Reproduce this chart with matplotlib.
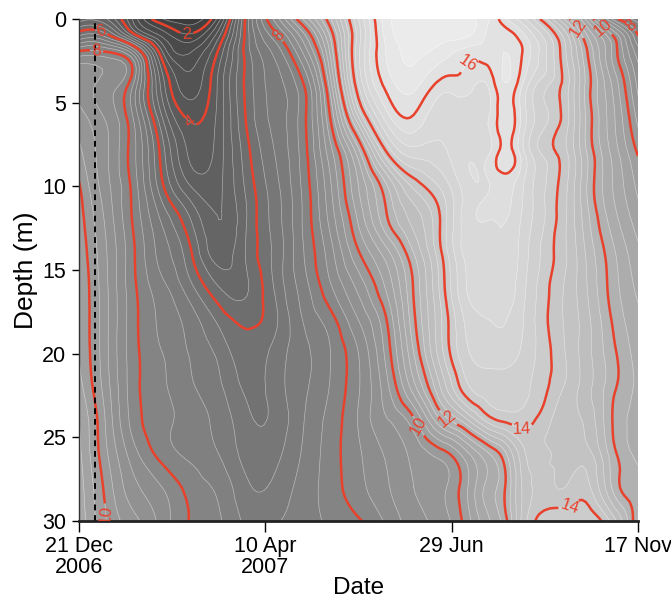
import numpy as np
import matplotlib
matplotlib.use("Agg")
import matplotlib.pyplot as plt
import matplotlib.tri as mtri
from matplotlib.colors import Normalize

plt.rcParams['font.family'] = ['Liberation Sans', 'DejaVu Sans']

# cast positions along the time axis (fraction of the axis) and sample depths (m)
cast_pos = [0.000, 0.050, 0.100, 0.150, 0.200, 0.250, 0.300, 0.350, 0.400, 0.450, 0.500,
            0.549, 0.599, 0.649, 0.699, 0.735, 0.765, 0.795, 0.870, 0.900, 0.950, 1.000]
depths = [0, 1, 2, 4, 6, 8, 10, 12, 14, 16, 18, 20, 22, 24, 26, 28, 30]

# temperature profiles (deg C), one list per cast, top to bottom
profiles = [
    [5.0, 6.4, 8.1, 9.1, 9.4, 9.7, 10.05, 10.2, 10.3, 10.37, 10.4, 10.4, 10.55, 10.8, 10.9, 11.0, 11.1],
    [4.8, 6.2, 8.05, 8.6, 8.75, 8.85, 8.92, 9.08, 9.2, 9.25, 9.27, 9.27, 9.35, 9.5, 9.64, 9.84, 9.98],
    [3.0, 4.2, 6.8, 7.4, 7.5, 7.65, 7.76, 7.87, 8.0, 8.05, 8.1, 8.12, 8.13, 8.19, 8.52, 8.9, 9.3],
    [1.6, 2.7, 3.6, 4.57, 5.2, 5.75, 6.05, 6.7, 7.0, 7.3, 7.5, 7.6, 7.66, 7.72, 7.83, 8.39, 8.61],
    [1.4, 2.1, 2.8, 3.4, 3.95, 4.3, 4.8, 5.6, 6.05, 6.5, 7.0, 7.16, 7.25, 7.39, 7.51, 7.84, 7.97],
    [2.6, 3.5, 4.1, 4.5, 4.55, 4.6, 4.7, 4.8, 5.0, 5.6, 6.3, 6.7, 6.89, 7.07, 7.2, 7.5, 7.67],
    [6.2, 6.2, 6.2, 6.13, 6.05, 5.85, 5.7, 5.6, 5.65, 5.55, 5.9, 6.17, 6.32, 6.5, 6.63, 6.88, 7.12],
    [8.5, 7.8, 7.3, 7.0, 6.93, 6.8, 6.65, 6.57, 6.5, 6.44, 6.3, 6.54, 6.58, 6.5, 6.66, 6.9, 7.15],
    [10.4, 9.4, 8.8, 7.9, 7.82, 7.76, 7.67, 7.62, 7.55, 7.39, 7.2, 7.07, 7.1, 7.16, 7.24, 7.35, 7.4],
    [12.35, 11.7, 11.3, 10.6, 10.0, 9.45, 9.15, 8.95, 8.64, 8.35, 7.83, 7.6, 7.63, 7.75, 7.8, 7.8, 7.68],
    [14.8, 14.6, 14.7, 14.35, 13.1, 11.43, 10.8, 10.47, 9.95, 9.33, 8.8, 8.4, 8.36, 8.43, 8.34, 8.27, 7.95],
    [16.6, 16.5, 16.4, 16.1, 15.3, 13.9, 12.3, 11.9, 11.0, 10.45, 9.95, 9.7, 9.44, 9.15, 8.85, 8.73, 8.46],
    [17.2, 17.1, 16.9, 16.5, 15.9, 15.0, 13.7, 12.95, 12.4, 12.05, 11.9, 11.6, 11.05, 9.9, 9.3, 9.2, 9.03],
    [17.0, 16.9, 16.6, 15.8, 15.3, 15.1, 14.5, 14.1, 14.0, 13.8, 13.6, 13.5, 12.9, 11.6, 9.8, 9.5, 9.4],
    [16.9, 16.8, 16.2, 15.7, 15.5, 15.5, 15.5, 15.5, 15.4, 15.3, 15.0, 14.8, 14.4, 12.85, 10.8, 10.5, 10.35],
    [16.4, 16.3, 16.25, 15.7, 15.65, 15.6, 15.6, 15.6, 15.5, 15.4, 15.2, 15.0, 14.6, 13.8, 11.6, 11.4, 11.2],
    [15.6, 16.2, 16.4, 16.35, 16.3, 16.2, 15.75, 15.6, 15.5, 15.4, 15.2, 15.0, 14.6, 14.1, 12.4, 12.1, 11.95],
    [14.9, 15.7, 15.95, 15.5, 15.4, 15.3, 15.2, 15.1, 15.0, 14.9, 14.8, 14.7, 14.5, 14.2, 13.5, 13.3, 13.4],
    [12.3, 13.4, 13.65, 13.8, 13.8, 13.7, 13.7, 13.65, 13.65, 13.55, 13.55, 13.6, 13.55, 13.35, 13.3, 13.6, 14.3],
    [11.1, 12.0, 12.4, 12.6, 12.65, 12.7, 12.7, 12.8, 12.95, 13.0, 13.1, 13.1, 13.1, 13.2, 13.4, 13.8, 14.3],
    [8.5, 10.2, 10.5, 10.9, 11.05, 11.2, 11.3, 11.5, 11.8, 11.9, 12.05, 12.2, 12.2, 12.1, 12.3, 12.5, 13.6],
    [7.5, 8.0, 8.6, 9.1, 9.5, 9.95, 10.3, 10.6, 10.9, 11.1, 11.3, 11.4, 11.5, 11.5, 11.5, 11.7, 11.6],
]

tick_pos = [0, 1 / 3, 2 / 3, 1]
tick_labels = ["21 Dec\n2006", "10 Apr\n2007", "29 Jun", "17 Nov"]
red_levels = [2, 4, 6, 8, 10, 12, 14, 16]
marker_date = 0.0286  # dashed line

# where the contour labels sit (x, depth)
label_spots = [(0.193, 0.78), (0.199, 6.16), (0.041, 0.66), (0.032, 1.73), (0.36, 0.96),
               (0.055, 29.6), (0.687, 2.33), (0.893, 0.54), (0.937, 0.54), (0.982, 0.66),
               (0.619, 24.1), (0.667, 23.55), (0.794, 24.4), (0.878, 29.2)]

X, D = np.meshgrid(cast_pos, depths)
T = np.array(profiles).T

# smooth contouring: triangulate in roughly screen-proportional units, refine with matplotlib
xscale = 33.4
tri = mtri.Triangulation(X.ravel() * xscale, D.ravel())
refiner = mtri.UniformTriRefiner(tri)
tri_r, T_r = refiner.refine_field(T.ravel(), subdiv=3)
tri_plot = mtri.Triangulation(tri_r.x / xscale, tri_r.y, tri_r.triangles)

fig = plt.figure(figsize=(6.71, 5.98), dpi=100)
ax = fig.add_axes([0.1177, 0.1288, 0.8331, 0.8394])

fill_levels = np.arange(-0.4, 19.2, 0.4)
ax.tricontourf(tri_plot, T_r, levels=fill_levels, cmap='gray', norm=Normalize(-4, 18.8))
ax.tricontour(tri_plot, T_r, levels=fill_levels, colors='white', linewidths=0.5, alpha=0.45)
cs = ax.tricontour(tri_plot, T_r, levels=red_levels, colors='#e8412c', linewidths=1.8)
ax.clabel(cs, fmt='%d', fontsize=12, manual=label_spots, inline=True, inline_spacing=2)

ax.axvline(marker_date, color='black', ls=(0, (3, 2.5)), lw=1.4)

ax.set_xlim(0, 1)
ax.set_ylim(30, 0)
ax.set_xticks(tick_pos)
ax.set_xticklabels(tick_labels, linespacing=1.0)
ax.set_yticks([0, 5, 10, 15, 20, 25, 30])

for s in ['top', 'right']:
    ax.spines[s].set_visible(False)
ax.spines['left'].set_linewidth(1.0)
ax.spines['left'].set_color('#333333')
ax.spines['bottom'].set_linewidth(2.0)
ax.spines['bottom'].set_color('#222222')
ax.tick_params(axis='y', direction='out', length=5, width=1, labelsize=15.5, pad=4)
ax.tick_params(axis='x', direction='out', length=8, width=1, labelsize=15.5, pad=3)

ax.set_xlabel("Date", fontsize=17.5, labelpad=-1)
ax.set_ylabel("Depth (m)", fontsize=19, labelpad=3)

fig.savefig("out.png", dpi=100)
